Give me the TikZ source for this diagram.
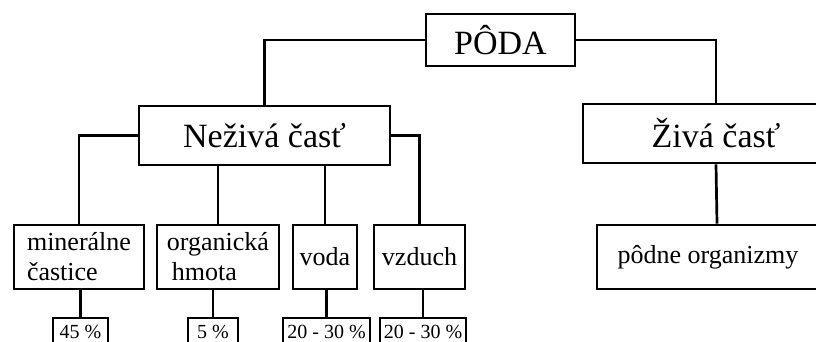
\documentclass[tikz,border=0pt]{standalone}
\usepackage{fontspec}
\setmainfont{Liberation Serif}

\begin{document}
\begin{tikzpicture}[x=1pt, y=-1pt, line width=2.7pt,
  box/.style={draw, inner sep=0pt, minimum height=59pt, font=\fontsize{34}{40}\selectfont},
  part/.style={draw, inner sep=0pt, minimum height=64pt, font=\fontsize{26}{30}\selectfont, align=left},
  share/.style={draw, inner sep=0pt, minimum height=28pt, font=\fontsize{20}{24}\selectfont}]
  \clip (0,0) rectangle (816,342);

  \node[box, minimum width=149pt, minimum height=52pt](poda) at (500.5,40){PÔDA};
  \node[box, minimum width=251pt](neziva) at (264.5,135.5){Neživá časť};
  \node[box, minimum width=266pt](ziva) at (716,133.5){Živá časť\hspace{20pt}};

  \node[part, minimum width=130pt](mineralne) at (79,257){minerálne\\častice};
  \node[part, minimum width=122pt](organicka) at (218,257){organická\\\hspace{5pt}hmota};
  \node[part, minimum width=64pt](voda) at (325,257){voda};
  \node[part, minimum width=91pt](vzduch) at (419.5,257){vzduch};
  \node[part, minimum width=240pt](organizmy) at (717,257){pôdne organizmy\hspace{18pt}};

  \node[share, minimum width=55pt](p45) at (80.5,332){45 \%};
  \node[share, minimum width=50pt](p5) at (213,332){5 \%};
  \node[share, minimum width=87pt](p20a) at (326.5,332){20 - 30 \%};
  \node[share, minimum width=86pt](p20b) at (423,332){20 - 30 \%};

  \draw (poda.west) -| (neziva.north);
  \draw (poda.east) -| (ziva.north);
  \draw (neziva.west) -| (mineralne.north);
  \draw (neziva.east) -| (vzduch.north);
  \draw (organicka.north |- neziva.south) -- (organicka.north);
  \draw (voda.north |- neziva.south) -- (voda.north);
  \draw (ziva.south) -- (organizmy.north);

  \draw (p45.north |- mineralne.south) -- (p45.north);
  \draw (p5.north |- organicka.south) -- (p5.north);
  \draw (p20a.north |- voda.south) -- (p20a.north);
  \draw (p20b.north |- vzduch.south) -- (p20b.north);
\end{tikzpicture}
\end{document}
